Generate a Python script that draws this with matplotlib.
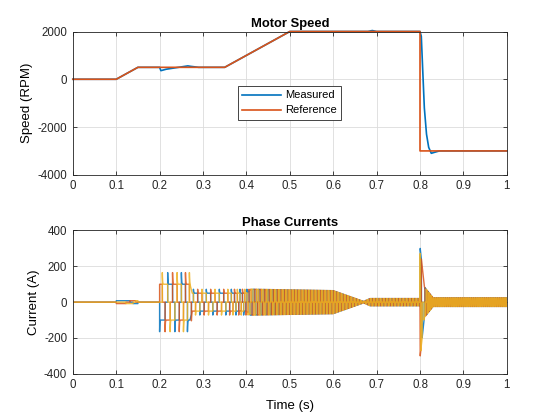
#!/usr/bin/env python3
"""
Motor speed and three-phase currents, MATLAB-like look.
"""
import numpy as np
import matplotlib
matplotlib.use("Agg")
import matplotlib.pyplot as plt

plt.rcParams['font.family'] = ['Liberation Sans', 'DejaVu Sans']
plt.rcParams['axes.unicode_minus'] = False

# speed trace (RPM)
ref_t = [0, 0.1, 0.15, 0.35, 0.5, 0.8, 0.8, 1.0]
ref_rpm = [0, 0, 500, 500, 2000, 2000, -3000, -3000]

meas_t = [0, 0.1, 0.15, 0.2, 0.203, 0.215, 0.24, 0.265, 0.272, 0.29, 0.35, 0.5,
          0.68, 0.69, 0.7, 0.8, 0.803, 0.806, 0.81, 0.815, 0.82, 0.826, 0.835, 0.845, 1.0]
meas_rpm = [0, 0, 500, 500, 360, 420, 490, 560, 540, 500, 500, 2000,
            2000, 2040, 2000, 2000, 1800, 500, -1200, -2300, -2850, -3100, -3050, -3000, -3000]

# phase current envelope (A), commutation overshoot (A)
amp_t = [0, 0.1, 0.1, 0.15, 0.15, 0.2, 0.2, 0.27, 0.275, 0.4, 0.41, 0.5, 0.6,
         0.67, 0.685, 0.8, 0.8005, 0.81, 0.83, 1.0]
amp_a = [0, 0, 8, 8, 0, 0, 100, 100, 50, 50, 72, 68, 64,
         4, 20, 20, 300, 85, 24, 24]
spk_t = [0, 0.2, 0.2, 0.27, 0.275, 0.4, 0.41, 1.0]
spk_a = [0, 0, 65, 65, 22, 22, 0, 0]
pole_pairs = 4

ticks_x = [0, 0.1, 0.2, 0.3, 0.4, 0.5, 0.6, 0.7, 0.8, 0.9, 1]

C_BLUE, C_ORANGE, C_YELLOW = "#0072BD", "#D95319", "#EDB120"


def phase_currents():
    t = np.linspace(0, 1, 60001)
    dt = t[1] - t[0]
    rpm = np.interp(t, meas_t, meas_rpm)
    theta = np.cumsum(rpm / 60.0 * pole_pairs * 2 * np.pi) * dt
    amp = np.interp(t, amp_t, amp_a)
    spk = np.interp(t, spk_t, spk_a)
    out = []
    pattern = np.array([1, 1, 0, -1, -1, 0])
    for k in range(3):
        ang = np.mod(theta - k * 2 * np.pi / 3, 2 * np.pi)
        sec = np.minimum((ang // (np.pi / 3)).astype(int), 5)
        s = pattern[sec]
        chg = np.r_[0, np.nonzero(np.diff(s))[0] + 1]
        last = np.zeros(len(t), dtype=int)
        last[chg] = chg
        last = np.maximum.accumulate(last)
        since = (np.arange(len(t)) - last) * dt
        i = amp * s + spk * s * np.exp(-since / 0.0005)
        out.append(i)
    return t, out


def style(ax):
    ax.grid(True, color="#dcdcdc", linewidth=0.6)
    ax.set_axisbelow(True)
    ax.tick_params(direction="in", top=True, right=True, labelsize=8.3,
                   length=3, width=0.6, colors="#262626", pad=4)
    for sp in ax.spines.values():
        sp.set_color("#262626")
        sp.set_linewidth(0.6)
    ax.set_xlim(0, 1)
    ax.set_xticks(ticks_x)
    ax.set_xticklabels(["0", "0.1", "0.2", "0.3", "0.4", "0.5", "0.6",
                        "0.7", "0.8", "0.9", "1"])


def make_plot():
    fig = plt.figure(figsize=(5.6, 4.2), dpi=100)
    ax1 = fig.add_axes([0.13, 0.5838, 0.775, 0.3412])
    ax2 = fig.add_axes([0.13, 0.11, 0.775, 0.3412])

    # speed
    ax1.plot(meas_t, meas_rpm, color=C_BLUE, lw=1.2, label="Measured", clip_on=False)
    ax1.plot(ref_t, ref_rpm, color=C_ORANGE, lw=1.2, label="Reference", clip_on=False)
    style(ax1)
    ax1.set_ylim(-4000, 2000)
    ax1.set_yticks([-4000, -2000, 0, 2000])
    ax1.set_title("Motor Speed", fontsize=9.4, fontweight="bold", pad=3)
    ax1.set_ylabel("Speed (RPM)", fontsize=9.5, labelpad=3)
    leg = ax1.legend(loc="upper left", bbox_to_anchor=(0.380, 0.62), fontsize=8,
                     fancybox=False, edgecolor="#262626", framealpha=1,
                     handlelength=3.5, borderpad=0.4, labelspacing=0.45,
                     handletextpad=0.35, borderaxespad=0)
    leg.get_frame().set_linewidth(0.6)

    # currents
    t, cur = phase_currents()
    for i, c in zip(cur, [C_BLUE, C_ORANGE, C_YELLOW]):
        ax2.plot(t, i, color=c, lw=1.0, alpha=0.85)
    style(ax2)
    ax2.set_ylim(-400, 400)
    ax2.set_yticks([-400, -200, 0, 200, 400])
    ax2.set_title("Phase Currents", fontsize=9.4, fontweight="bold", pad=3)
    ax2.set_ylabel("Current (A)", fontsize=9.5, labelpad=3)
    ax2.set_xlabel("Time (s)", fontsize=9.5, labelpad=6)

    fig.savefig("out.png", dpi=100)
    plt.close(fig)


if __name__ == "__main__":
    make_plot()
